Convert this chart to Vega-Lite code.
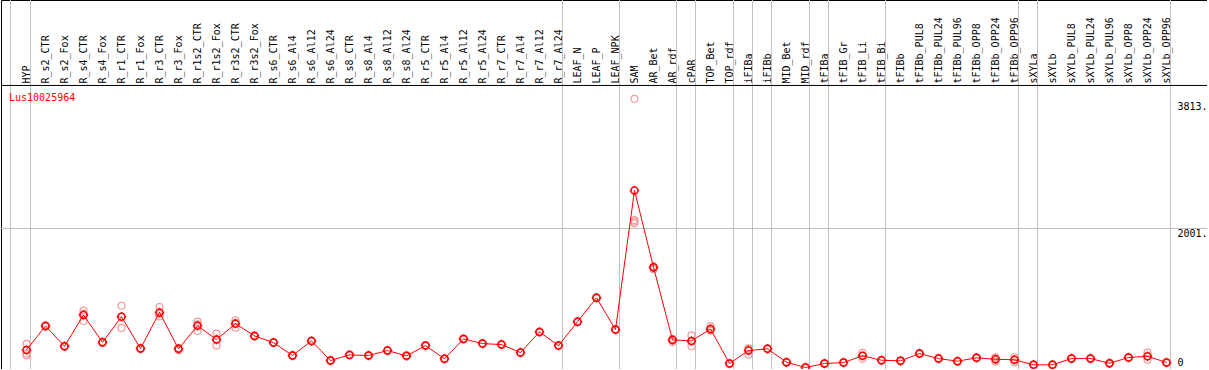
{
  "$schema": "https://vega.github.io/schema/vega-lite/v6.json",
  "width": 1206,
  "height": 369,
  "autosize": {"type": "none"},
  "padding": {"left": 1, "top": 0, "right": 0, "bottom": 0},
  "background": "white",
  "config": {
    "view": {"stroke": "black", "strokeWidth": 1},
    "font": "DejaVu Sans Mono"
  },
  "title": {
    "text": "Lus10025964",
    "color": "red",
    "font": "DejaVu Sans Mono",
    "fontSize": 10,
    "fontWeight": "normal",
    "anchor": "start",
    "frame": "group",
    "offset": 0,
    "dx": 8,
    "dy": 108,
    "baseline": "middle"
  },
  "datasets": {
    "means": [
      {"t": "HYP", "v": 272}, {"t": "R_s2_CTR", "v": 613}, {"t": "R_s2_Fox", "v": 324},
      {"t": "R_s4_CTR", "v": 769}, {"t": "R_s4_Fox", "v": 380}, {"t": "R_r1_CTR", "v": 745},
      {"t": "R_r1_Fox", "v": 291}, {"t": "R_r3_CTR", "v": 806}, {"t": "R_r3_Fox", "v": 287},
      {"t": "R_r1s2_CTR", "v": 617}, {"t": "R_r1s2_Fox", "v": 419}, {"t": "R_r3s2_CTR", "v": 646},
      {"t": "R_r3s2_Fox", "v": 471}, {"t": "R_s6_CTR", "v": 376}, {"t": "R_s6_Al4", "v": 192},
      {"t": "R_s6_Al12", "v": 400}, {"t": "R_s6_Al24", "v": 121}, {"t": "R_s8_CTR", "v": 201},
      {"t": "R_s8_Al4", "v": 192}, {"t": "R_s8_Al12", "v": 263}, {"t": "R_s8_Al24", "v": 187},
      {"t": "R_r5_CTR", "v": 333}, {"t": "R_r5_Al4", "v": 145}, {"t": "R_r5_Al12", "v": 429},
      {"t": "R_r5_Al24", "v": 362}, {"t": "R_r7_CTR", "v": 348}, {"t": "R_r7_Al4", "v": 234},
      {"t": "R_r7_Al12", "v": 528}, {"t": "R_r7_Al24", "v": 333}, {"t": "LEAF_N", "v": 674},
      {"t": "LEAF_P", "v": 1015}, {"t": "LEAF_NPK", "v": 561}, {"t": "SAM", "v": 2543},
      {"t": "AR_Bet", "v": 1450}, {"t": "AR_rdf", "v": 414}, {"t": "cPAR", "v": 400},
      {"t": "TOP_Bet", "v": 570}, {"t": "TOP_rdf", "v": 78}, {"t": "iFIBa", "v": 263},
      {"t": "iFIBb", "v": 287}, {"t": "MID_Bet", "v": 96}, {"t": "MID_rdf", "v": 21},
      {"t": "tFIBa", "v": 78}, {"t": "tFIB_Gr", "v": 92}, {"t": "tFIB_Li", "v": 187},
      {"t": "tFIB_Bi", "v": 125}, {"t": "tFIBb", "v": 116}, {"t": "tFIBb_PUL8", "v": 220},
      {"t": "tFIBb_PUL24", "v": 149}, {"t": "tFIBb_PUL96", "v": 111}, {"t": "tFIBb_OPP8", "v": 159},
      {"t": "tFIBb_OPP24", "v": 139}, {"t": "tFIBb_OPP96", "v": 131}, {"t": "sXYLa", "v": 60},
      {"t": "sXYLb", "v": 60}, {"t": "sXYLb_PUL8", "v": 149}, {"t": "sXYLb_PUL24", "v": 149},
      {"t": "sXYLb_PUL96", "v": 82}, {"t": "sXYLb_OPP8", "v": 163}, {"t": "sXYLb_OPP24", "v": 182},
      {"t": "sXYLb_OPP96", "v": 92}
    ],
    "reps": [
      {"t": "HYP", "v": 358}, {"t": "HYP", "v": 220}, {"t": "HYP", "v": 196},
      {"t": "R_s2_CTR", "v": 605}, {"t": "R_s2_CTR", "v": 622},
      {"t": "R_s2_Fox", "v": 318}, {"t": "R_s2_Fox", "v": 330},
      {"t": "R_s4_CTR", "v": 830}, {"t": "R_s4_CTR", "v": 684}, {"t": "R_s4_CTR", "v": 790},
      {"t": "R_s4_Fox", "v": 372}, {"t": "R_s4_Fox", "v": 388},
      {"t": "R_r1_CTR", "v": 901}, {"t": "R_r1_CTR", "v": 585}, {"t": "R_r1_CTR", "v": 748},
      {"t": "R_r1_Fox", "v": 285}, {"t": "R_r1_Fox", "v": 297},
      {"t": "R_r3_CTR", "v": 883}, {"t": "R_r3_CTR", "v": 749}, {"t": "R_r3_CTR", "v": 786},
      {"t": "R_r3_Fox", "v": 280}, {"t": "R_r3_Fox", "v": 270}, {"t": "R_r3_Fox", "v": 300},
      {"t": "R_r1s2_CTR", "v": 674}, {"t": "R_r1s2_CTR", "v": 542}, {"t": "R_r1s2_CTR", "v": 635},
      {"t": "R_r1s2_Fox", "v": 504}, {"t": "R_r1s2_Fox", "v": 333}, {"t": "R_r1s2_Fox", "v": 420},
      {"t": "R_r3s2_CTR", "v": 692}, {"t": "R_r3s2_CTR", "v": 589}, {"t": "R_r3s2_CTR", "v": 657},
      {"t": "R_r3s2_Fox", "v": 463}, {"t": "R_r3s2_Fox", "v": 479},
      {"t": "R_s6_CTR", "v": 370}, {"t": "R_s6_CTR", "v": 382},
      {"t": "R_s6_Al4", "v": 186}, {"t": "R_s6_Al4", "v": 198},
      {"t": "R_s6_Al12", "v": 394}, {"t": "R_s6_Al12", "v": 406},
      {"t": "R_s6_Al24", "v": 115}, {"t": "R_s6_Al24", "v": 127},
      {"t": "R_s8_CTR", "v": 195}, {"t": "R_s8_CTR", "v": 207},
      {"t": "R_s8_Al4", "v": 186}, {"t": "R_s8_Al4", "v": 198},
      {"t": "R_s8_Al12", "v": 257}, {"t": "R_s8_Al12", "v": 269},
      {"t": "R_s8_Al24", "v": 181}, {"t": "R_s8_Al24", "v": 193},
      {"t": "R_r5_CTR", "v": 327}, {"t": "R_r5_CTR", "v": 339},
      {"t": "R_r5_Al4", "v": 139}, {"t": "R_r5_Al4", "v": 151},
      {"t": "R_r5_Al12", "v": 423}, {"t": "R_r5_Al12", "v": 435},
      {"t": "R_r5_Al24", "v": 356}, {"t": "R_r5_Al24", "v": 368},
      {"t": "R_r7_CTR", "v": 342}, {"t": "R_r7_CTR", "v": 354},
      {"t": "R_r7_Al4", "v": 228}, {"t": "R_r7_Al4", "v": 240},
      {"t": "R_r7_Al12", "v": 522}, {"t": "R_r7_Al12", "v": 534},
      {"t": "R_r7_Al24", "v": 327}, {"t": "R_r7_Al24", "v": 339},
      {"t": "LEAF_N", "v": 668}, {"t": "LEAF_N", "v": 680},
      {"t": "LEAF_P", "v": 1009}, {"t": "LEAF_P", "v": 1021},
      {"t": "LEAF_NPK", "v": 555}, {"t": "LEAF_NPK", "v": 567},
      {"t": "SAM", "v": 2121}, {"t": "SAM", "v": 2075}, {"t": "SAM", "v": 2100}, {"t": "SAM", "v": 3848},
      {"t": "AR_Bet", "v": 1422}, {"t": "AR_Bet", "v": 1440}, {"t": "AR_Bet", "v": 1460},
      {"t": "AR_rdf", "v": 386}, {"t": "AR_rdf", "v": 420}, {"t": "AR_rdf", "v": 430},
      {"t": "cPAR", "v": 480}, {"t": "cPAR", "v": 324}, {"t": "cPAR", "v": 396},
      {"t": "TOP_Bet", "v": 607}, {"t": "TOP_Bet", "v": 560}, {"t": "TOP_Bet", "v": 545},
      {"t": "TOP_rdf", "v": 72}, {"t": "TOP_rdf", "v": 84},
      {"t": "iFIBa", "v": 295}, {"t": "iFIBa", "v": 206}, {"t": "iFIBa", "v": 288},
      {"t": "iFIBb", "v": 281}, {"t": "iFIBb", "v": 293},
      {"t": "MID_Bet", "v": 90}, {"t": "MID_Bet", "v": 102},
      {"t": "MID_rdf", "v": 15}, {"t": "MID_rdf", "v": 27},
      {"t": "tFIBa", "v": 72}, {"t": "tFIBa", "v": 84},
      {"t": "tFIB_Gr", "v": 86}, {"t": "tFIB_Gr", "v": 98},
      {"t": "tFIB_Li", "v": 230}, {"t": "tFIB_Li", "v": 145}, {"t": "tFIB_Li", "v": 187},
      {"t": "tFIB_Bi", "v": 119}, {"t": "tFIB_Bi", "v": 131},
      {"t": "tFIBb", "v": 110}, {"t": "tFIBb", "v": 122},
      {"t": "tFIBb_PUL8", "v": 214}, {"t": "tFIBb_PUL8", "v": 226},
      {"t": "tFIBb_PUL24", "v": 143}, {"t": "tFIBb_PUL24", "v": 155},
      {"t": "tFIBb_PUL96", "v": 105}, {"t": "tFIBb_PUL96", "v": 117},
      {"t": "tFIBb_OPP8", "v": 153}, {"t": "tFIBb_OPP8", "v": 165},
      {"t": "tFIBb_OPP24", "v": 167}, {"t": "tFIBb_OPP24", "v": 106}, {"t": "tFIBb_OPP24", "v": 145},
      {"t": "tFIBb_OPP96", "v": 167}, {"t": "tFIBb_OPP96", "v": 96}, {"t": "tFIBb_OPP96", "v": 130},
      {"t": "sXYLa", "v": 54}, {"t": "sXYLa", "v": 66},
      {"t": "sXYLb", "v": 54}, {"t": "sXYLb", "v": 66},
      {"t": "sXYLb_PUL8", "v": 143}, {"t": "sXYLb_PUL8", "v": 155},
      {"t": "sXYLb_PUL24", "v": 143}, {"t": "sXYLb_PUL24", "v": 155},
      {"t": "sXYLb_PUL96", "v": 76}, {"t": "sXYLb_PUL96", "v": 88},
      {"t": "sXYLb_OPP8", "v": 157}, {"t": "sXYLb_OPP8", "v": 169},
      {"t": "sXYLb_OPP24", "v": 234}, {"t": "sXYLb_OPP24", "v": 131}, {"t": "sXYLb_OPP24", "v": 182},
      {"t": "sXYLb_OPP96", "v": 86}, {"t": "sXYLb_OPP96", "v": 98}
    ],
    "seps": [
      {"t": "HYP"}, {"t": "R_r7_Al24"}, {"t": "LEAF_NPK"}, {"t": "AR_rdf"}, {"t": "cPAR"},
      {"t": "TOP_rdf"}, {"t": "iFIBa"}, {"t": "iFIBb"}, {"t": "MID_rdf"}, {"t": "tFIBa"},
      {"t": "tFIB_Bi"}, {"t": "tFIBb_OPP96"}, {"t": "sXYLa"}, {"t": "sXYLb_OPP96"}
    ],
    "first": [{"t": "HYP"}]
  },
  "layer": [
    {
      "data": {"name": "seps"},
      "mark": {"type": "rule", "color": "#c0c0c0", "strokeWidth": 1, "xOffset": 4},
      "encoding": {
        "x": {"field": "t", "type": "nominal",
          "scale": {"type": "point", "range": [25.5, 1165.5], "padding": 0,
            "domain": ["HYP","R_s2_CTR","R_s2_Fox","R_s4_CTR","R_s4_Fox","R_r1_CTR","R_r1_Fox","R_r3_CTR","R_r3_Fox","R_r1s2_CTR","R_r1s2_Fox","R_r3s2_CTR","R_r3s2_Fox","R_s6_CTR","R_s6_Al4","R_s6_Al12","R_s6_Al24","R_s8_CTR","R_s8_Al4","R_s8_Al12","R_s8_Al24","R_r5_CTR","R_r5_Al4","R_r5_Al12","R_r5_Al24","R_r7_CTR","R_r7_Al4","R_r7_Al12","R_r7_Al24","LEAF_N","LEAF_P","LEAF_NPK","SAM","AR_Bet","AR_rdf","cPAR","TOP_Bet","TOP_rdf","iFIBa","iFIBb","MID_Bet","MID_rdf","tFIBa","tFIB_Gr","tFIB_Li","tFIB_Bi","tFIBb","tFIBb_PUL8","tFIBb_PUL24","tFIBb_PUL96","tFIBb_OPP8","tFIBb_OPP24","tFIBb_OPP96","sXYLa","sXYLb","sXYLb_PUL8","sXYLb_PUL24","sXYLb_PUL96","sXYLb_OPP8","sXYLb_OPP24","sXYLb_OPP96"]},
          "axis": {"orient": "top", "offset": -83, "labelAngle": -90, "labelAlign": "left", "labelBaseline": "middle",
            "labelPadding": 0, "ticks": false, "domain": false, "grid": false, "title": null,
            "labelFont": "DejaVu Sans Mono", "labelFontSize": 10, "labelColor": "black", "labelOverlap": false, "labelLimit": 200}}
      }
    },
    {
      "data": {"name": "first"},
      "mark": {"type": "rule", "color": "#c0c0c0", "strokeWidth": 1, "xOffset": -16},
      "encoding": {
        "x": {"field": "t", "type": "nominal"}
      }
    },
    {
      "data": {"values": [{"g": 2001}]},
      "mark": {"type": "rule", "color": "#c0c0c0", "strokeWidth": 1},
      "encoding": {
        "y": {"field": "g", "type": "quantitative",
          "scale": {"domain": [0, 5255], "nice": false, "zero": false},
          "axis": {"orient": "right", "offset": -30, "values": [0, 2001, 3813],
            "labelExpr": "datum.value === 0 ? '0' : format(datum.value, 'd') + '.'",
            "grid": false, "ticks": false, "tickSize": 0, "domain": false, "title": null,
            "labelPadding": 0, "labelAlign": "left", "labelBaseline": "middle",
            "labelOffset": {"condition": {"test": "datum.value === 0", "value": -7}, "value": 5},
            "labelFlush": false,
            "labelFont": "DejaVu Sans Mono", "labelFontSize": 10, "labelColor": "black"}}
      }
    },
    {
      "data": {"values": [{"g": 4038}]},
      "mark": {"type": "rule", "color": "black", "strokeWidth": 1},
      "encoding": {
        "y": {"field": "g", "type": "quantitative"}
      }
    },
    {
      "data": {"name": "reps"},
      "mark": {"type": "point", "shape": "circle", "filled": false, "color": "#ee9a9a", "strokeWidth": 1.2, "size": 49, "opacity": 1},
      "encoding": {
        "x": {"field": "t", "type": "nominal"},
        "y": {"field": "v", "type": "quantitative"}
      }
    },
    {
      "data": {"name": "means"},
      "mark": {"type": "line", "color": "#ff0000", "strokeWidth": 1},
      "encoding": {
        "x": {"field": "t", "type": "nominal"},
        "y": {"field": "v", "type": "quantitative"}
      }
    },
    {
      "data": {"name": "means"},
      "mark": {"type": "point", "shape": "M-1,0A1,1,0,1,0,1,0A1,1,0,1,0,-1,0M0,-1L0,-1.35M0,1L0,1.35M-1,0L-1.35,0M1,0L1.35,0", "filled": false, "color": "#ff0000", "strokeWidth": 1.5, "size": 49, "opacity": 1},
      "encoding": {
        "x": {"field": "t", "type": "nominal"},
        "y": {"field": "v", "type": "quantitative"}
      }
    }
  ]
}
